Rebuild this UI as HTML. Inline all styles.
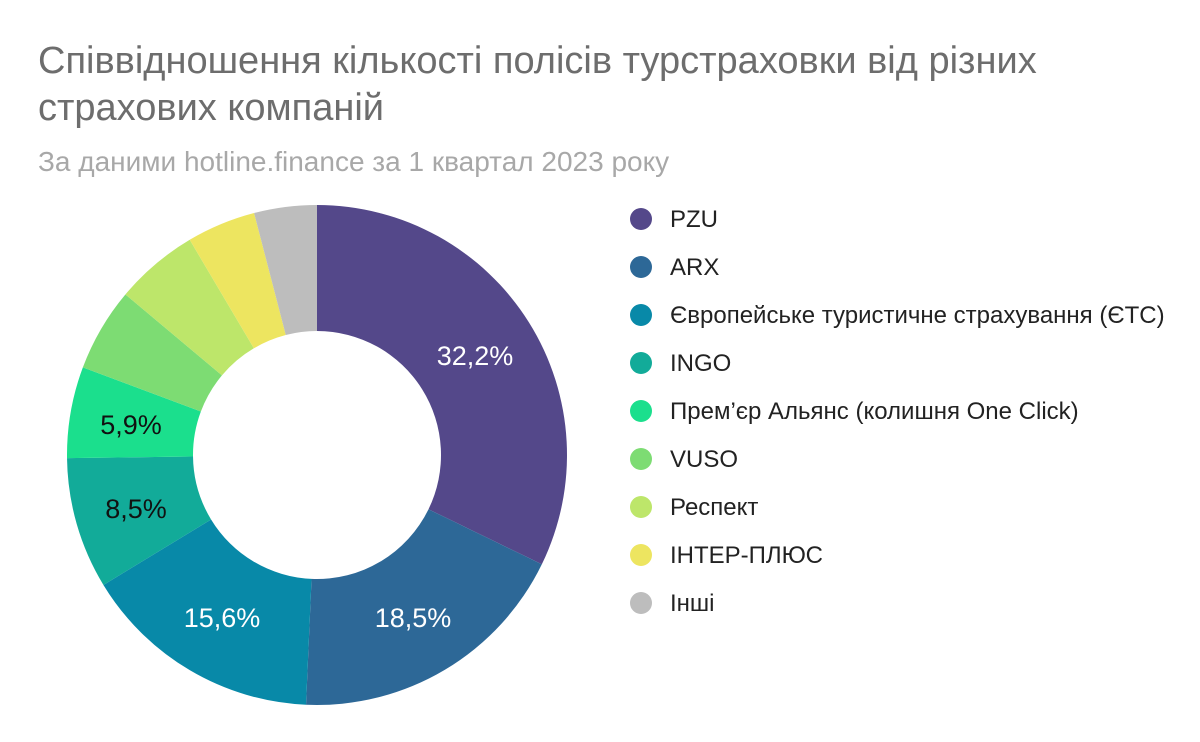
<!DOCTYPE html>
<html><head><meta charset="utf-8"><style>
html,body{margin:0;padding:0;background:#fff;}
body{width:1200px;height:742px;overflow:hidden;position:relative;font-family:"Liberation Sans",Arial,sans-serif;}
.t{position:absolute;left:38px;top:38px;font-size:38px;line-height:47px;color:#6d6d6d;white-space:nowrap;}
.s{position:absolute;left:38px;top:146px;font-size:28px;color:#a8a8a8;white-space:nowrap;}
</style></head><body>
<div class="t">Співвідношення кількості полісів турстраховки від різних<br>страхових компаній</div>
<div class="s">За даними hotline.finance за 1 квартал 2023 року</div>
<svg id="c" width="1200" height="742" style="position:absolute;left:0;top:0" xmlns="http://www.w3.org/2000/svg">
<g id="pie"></g>
<g font-size="27" font-family="Liberation Sans, sans-serif" text-anchor="middle">
<text x="475" y="365" fill="#fff">32,2%</text>
<text x="413" y="627" fill="#fff">18,5%</text>
<text x="222" y="627" fill="#fff">15,6%</text>
<text x="136" y="518" fill="#111">8,5%</text>
<text x="131" y="434" fill="#111">5,9%</text>
</g>
<g font-size="24" font-family="Liberation Sans, sans-serif" fill="#222">
<circle cx="641" cy="219" r="11" fill="#54488a"/><text x="670" y="227">PZU</text>
<circle cx="641" cy="267" r="11" fill="#2d6897"/><text x="670" y="275">ARX</text>
<circle cx="641" cy="315" r="11" fill="#0889a8"/><text x="670" y="323">Європейське туристичне страхування (ЄТС)</text>
<circle cx="641" cy="363" r="11" fill="#12ab99"/><text x="670" y="371">INGO</text>
<circle cx="641" cy="411" r="11" fill="#1bdf8d"/><text x="670" y="419">Прем’єр Альянс (колишня One Click)</text>
<circle cx="641" cy="459" r="11" fill="#7ddc73"/><text x="670" y="467">VUSO</text>
<circle cx="641" cy="507" r="11" fill="#bde66a"/><text x="670" y="515">Респект</text>
<circle cx="641" cy="555" r="11" fill="#ede560"/><text x="670" y="563">ІНТЕР-ПЛЮС</text>
<circle cx="641" cy="603" r="11" fill="#bdbdbd"/><text x="670" y="611">Інші</text>
</g>
</svg>
<script>
var v=[32.2,18.5,15.6,8.5,5.9,5.4,5.4,4.45,4.05];
var c=["#54488a","#2d6897","#0889a8","#12ab99","#1bdf8d","#7ddc73","#bde66a","#ede560","#bdbdbd"];
var cx=317,cy=455,R=250,r=124,tot=v.reduce(function(a,b){return a+b},0),a=0,h="";
function p(rad,an){return (cx+rad*Math.sin(an)).toFixed(2)+","+(cy-rad*Math.cos(an)).toFixed(2);}
for(var i=0;i<v.length;i++){var a0=a/tot*2*Math.PI;a+=v[i];var a1=a/tot*2*Math.PI;var l=(a1-a0)>Math.PI?1:0;
h+='<path fill="'+c[i]+'" d="M'+p(R,a0)+' A'+R+','+R+' 0 '+l+' 1 '+p(R,a1)+' L'+p(r,a1)+' A'+r+','+r+' 0 '+l+' 0 '+p(r,a0)+' Z"/>';}
document.getElementById("pie").innerHTML=h;
</script>
</body></html>
